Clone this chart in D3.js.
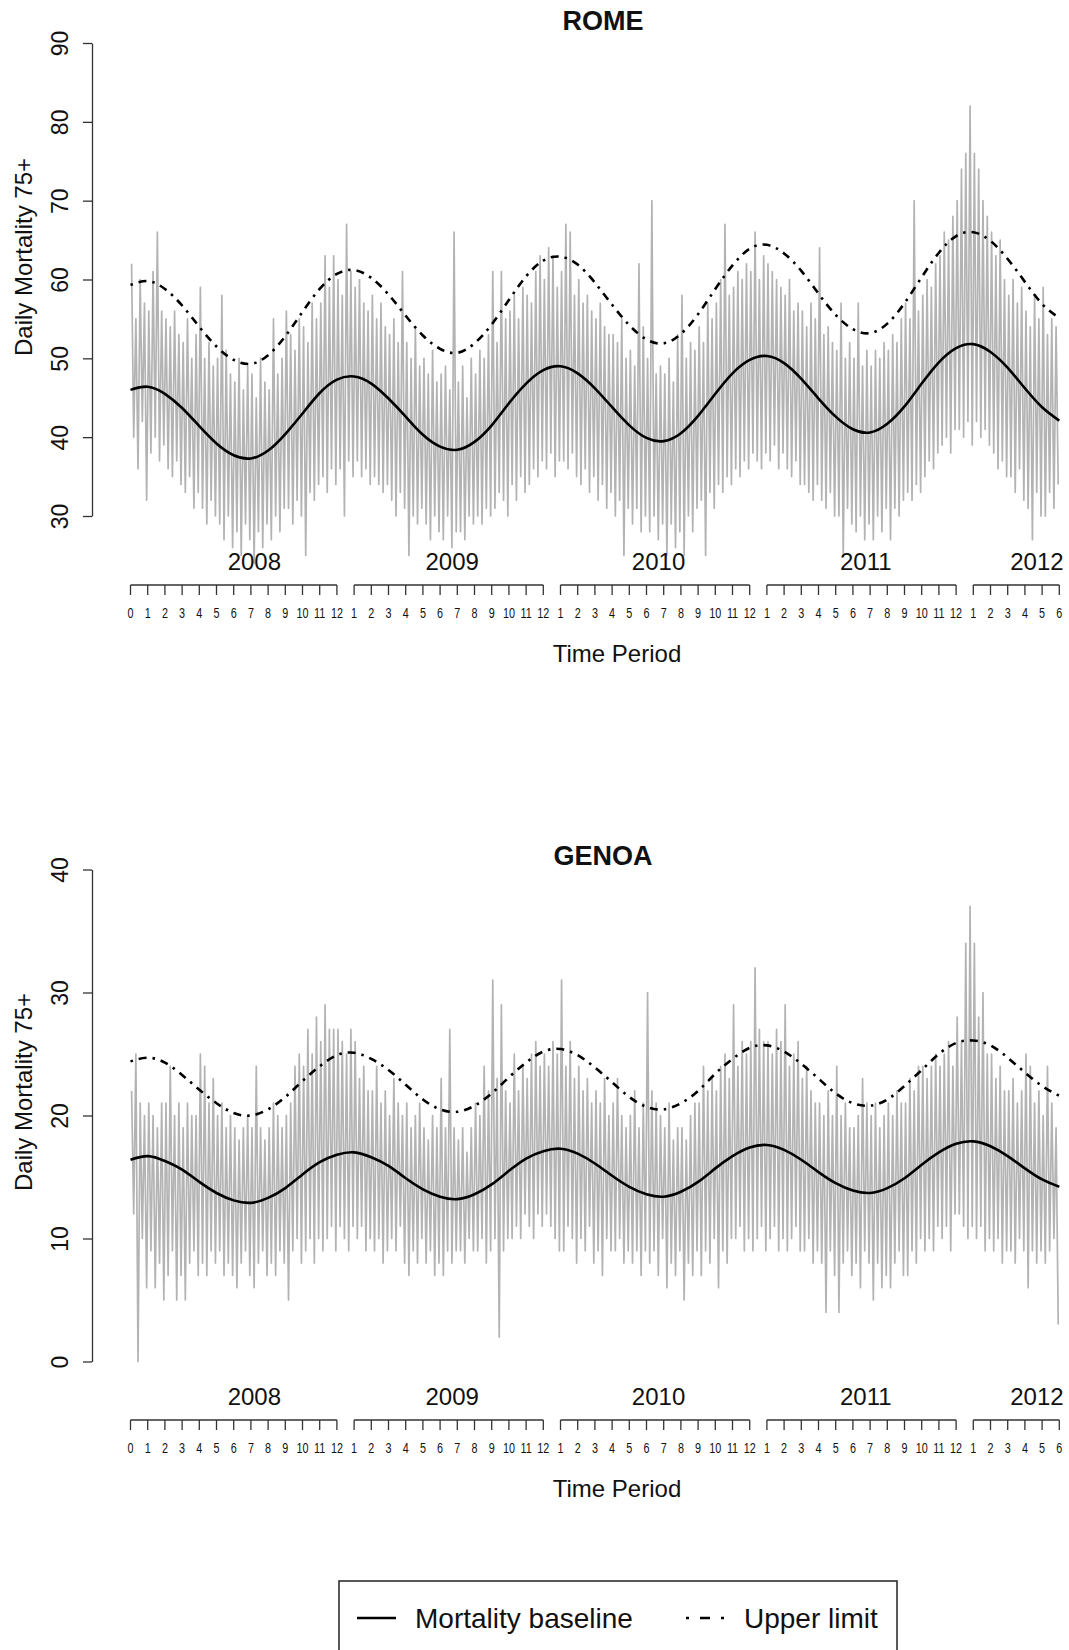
<!DOCTYPE html>
<html>
<head>
<meta charset="utf-8">
<script src="https://cdnjs.cloudflare.com/ajax/libs/d3/7.8.5/d3.min.js"></script>
<style>
  body { margin: 0; background: #fff; }
  svg text { font-family: "Liberation Sans", Arial, Helvetica, sans-serif; fill: #111; }
</style>
</head>
<body>
<div id="chart"></div>
<script>
// ---------------- data ----------------
// x is measured in months from the first tick ("0" of 2008) to the last ("6" of 2012)
const years = ["2008", "2009", "2010", "2011", "2012"];
const yearLabelPos = [7.2, 18.7, 30.7, 42.75, 52.7];
const yearFirstMonth = [0, 13, 25, 37, 49];
const monthLabels = [
  ["0","1","2","3","4","5","6","7","8","9","10","11","12"],
  ["1","2","3","4","5","6","7","8","9","10","11","12"],
  ["1","2","3","4","5","6","7","8","9","10","11","12"],
  ["1","2","3","4","5","6","7","8","9","10","11","12"],
  ["1","2","3","4","5","6"]
];

// smooth curves, one value per month tick (0..54)
const romeBaseline = [46.0,46.4,45.5,43.7,41.4,39.2,37.7,37.3,38.3,40.4,43.0,45.6,47.3,
  47.7,46.8,44.9,42.6,40.3,38.8,38.4,39.4,41.5,44.3,46.8,48.5,
  49.0,48.1,46.2,43.8,41.5,39.9,39.5,40.5,42.7,45.5,48.1,49.8,
  50.3,49.4,47.4,44.9,42.6,41.0,40.6,41.7,43.9,46.8,49.5,51.3,
  51.8,50.8,48.8,46.2,43.8,42.1];
const romeUpper = [59.3,59.8,58.8,56.7,54.0,51.5,49.8,49.3,50.4,52.8,55.9,58.8,60.7,
  61.2,60.2,58.1,55.4,52.9,51.2,50.7,51.9,54.3,57.4,60.4,62.4,
  62.9,61.9,59.6,56.8,54.2,52.4,51.9,53.1,55.6,58.8,61.8,63.9,
  64.4,63.3,61.1,58.2,55.5,53.7,53.2,54.4,57.0,60.3,63.4,65.5,
  66.0,64.9,62.6,59.7,56.9,55.1];
const genoaBaseline = [16.4,16.7,16.3,15.6,14.6,13.7,13.1,12.9,13.3,14.1,15.2,16.2,16.8,
  17.0,16.6,15.9,14.9,14.0,13.4,13.2,13.6,14.4,15.5,16.5,17.1,
  17.3,16.9,16.1,15.1,14.2,13.6,13.4,13.8,14.6,15.7,16.7,17.4,
  17.6,17.2,16.4,15.4,14.5,13.9,13.7,14.1,14.9,16.0,17.0,17.7,
  17.9,17.5,16.7,15.7,14.8,14.2];
const genoaUpper = [24.4,24.7,24.3,23.3,22.1,21.0,20.2,20.0,20.5,21.5,22.8,24.0,24.9,
  25.1,24.6,23.7,22.5,21.3,20.5,20.3,20.8,21.8,23.1,24.3,25.2,
  25.4,24.9,23.9,22.7,21.5,20.7,20.5,21.0,22.0,23.4,24.6,25.5,
  25.7,25.2,24.2,23.0,21.8,21.0,20.8,21.3,22.4,23.7,25.0,25.9,
  26.1,25.7,24.7,23.5,22.4,21.6];

// daily counts, summarised as highs and lows of quarter-month bins (4 per month, months 0..53)
const romeHigh = [
  62,55,60,57, 56,61,66,56, 55,54,56,53, 52,55,50,53, 59,50,52,49, 50,58,51,48,
  47,50,46,49, 48,45,50,47, 46,55,48,50, 56,53,51,55, 54,52,57,55, 57,63,59,63,
  60,58,67,61, 59,60,57,56, 58,55,57,54, 53,55,52,61, 52,50,54,49, 50,48,51,47,
  48,49,46,66, 47,49,45,50, 48,51,50,53, 61,52,61,55, 56,58,55,59, 58,57,61,63,
  60,64,63,59, 61,67,66,58, 60,57,58,56, 55,57,54,53, 53,52,55,50, 51,49,62,54,
  50,70,48,49, 48,50,47,53, 58,50,52,51, 54,52,57,55, 57,60,67,58, 59,61,60,62,
  61,66,60,63, 62,61,60,59, 58,60,56,57, 56,54,57,55, 64,53,54,52, 51,57,50,52,
  50,57,49,51, 49,51,50,52, 51,53,52,55, 57,55,70,56, 58,60,59,62, 63,66,65,68,
  70,74,76,82, 76,74,70,68, 66,63,65,60, 58,60,57,59, 56,54,58,55, 59,53,55,54];
const romeLow = [
  40,36,42,32, 38,40,37,39, 36,35,37,34, 33,35,31,33, 31,29,32,30, 29,27,30,26,
  28,25,29,27, 24,28,26,29, 27,30,28,31, 31,29,32,30, 25,33,32,34, 35,33,36,34,
  36,30,37,35, 37,35,36,34, 35,34,33,34, 32,30,33,31, 25,30,29,31, 29,27,30,28,
  27,30,26,28, 28,27,30,29, 30,29,31,30, 31,33,32,30, 34,32,35,33, 34,36,35,37,
  36,38,35,37, 37,36,38,35, 34,36,33,35, 32,34,31,33, 30,32,25,31, 29,31,28,30,
  28,30,27,29, 25,29,26,28, 25,30,28,31, 32,25,33,31, 34,33,35,34, 36,35,37,36,
  38,37,36,38, 37,39,36,38, 36,35,37,34, 34,33,32,34, 32,31,33,30, 30,25,31,29,
  28,30,27,29, 27,30,28,31, 27,31,30,32, 33,32,34,33, 35,37,36,38, 39,40,38,41,
  41,40,42,39, 42,40,41,39, 38,36,37,35, 35,33,36,32, 31,27,33,30, 30,33,31,34];
const genoaHigh = [
  22,25,21,20, 21,20,19,21, 21,24,20,21, 19,21,20,20, 25,24,21,23, 20,21,19,20,
  19,18,19,20, 19,24,19,18, 19,21,20,19, 20,21,24,25, 24,27,25,28, 26,29,27,27,
  27,26,25,27, 26,23,24,22, 22,24,21,22, 20,23,21,20, 21,19,20,21, 19,18,20,19,
  23,19,27,19, 18,19,17,19, 21,20,24,22, 31,23,29,22, 21,25,22,24, 23,25,26,24,
  25,24,26,25, 31,24,26,23, 24,22,23,21, 22,21,23,20, 21,23,20,19, 20,22,19,21,
  30,22,21,20, 19,21,18,19, 19,18,20,21, 21,24,22,23, 22,24,25,23, 29,24,26,25,
  26,32,27,26, 26,25,27,26, 29,24,25,26, 23,24,22,21, 21,20,22,20, 24,20,21,19,
  19,20,23,21, 20,21,19,20, 21,20,22,21, 21,23,22,24, 24,23,24,25, 24,25,26,24,
  28,26,34,37, 34,28,30,25, 25,23,24,22, 22,23,21,22, 25,24,21,22, 20,24,21,19];
const genoaLow = [
  12,0,10,6, 9,6,8,5, 7,9,5,7, 5,8,9,7, 8,7,9,8, 9,7,8,7,
  6,8,9,7, 6,8,9,7, 8,7,9,8, 5,9,10,8, 9,10,8,10, 9,10,11,9,
  11,10,9,11, 10,11,9,10, 9,10,8,9, 10,9,11,8, 7,9,8,10, 8,9,7,8,
  7,9,8,9, 9,8,10,9, 9,10,8,9, 10,2,9,10, 10,11,10,12, 11,10,12,11,
  12,11,10,9, 9,11,10,8, 10,9,11,8, 9,7,10,9, 9,10,8,9, 8,9,7,9,
  8,9,7,10, 6,8,7,9, 5,8,7,9, 7,9,8,10, 6,9,8,10, 10,11,9,10,
  9,10,11,9, 10,11,9,10, 9,10,11,9, 9,10,8,9, 8,4,9,7, 4,8,9,7,
  8,6,9,8, 5,8,6,7, 6,8,9,7, 7,9,8,10, 9,10,9,11, 10,11,9,12,
  12,11,10,11, 10,11,9,10, 9,10,8,9, 9,8,10,9, 6,9,8,9, 8,9,10,3];

const romeTicks = [30, 40, 50, 60, 70, 80, 90];
const genoaTicks = [0, 10, 20, 30, 40];

// ---------------- drawing ----------------
const width = 1069, height = 1650;

const svg = d3.select("#chart")
  .append("svg")
  .attr("width", width)
  .attr("height", height);

// one shared month scale
const x = d3.scaleLinear().domain([0, 54]).range([130.5, 1059.3]);

const panels = [
  {name: "ROME", high: romeHigh, low: romeLow, base: romeBaseline, upper: romeUpper,
   ticks: romeTicks, domain: [30, 90], range: [516, 43], top: 0},
  {name: "GENOA", high: genoaHigh, low: genoaLow, base: genoaBaseline, upper: genoaUpper,
   ticks: genoaTicks, domain: [0, 40], range: [1361.5, 869.5], top: 835}
];

panels.forEach(function(p) {
  const g = svg.append("g");
  const y = d3.scaleLinear().domain(p.domain).range(p.range);

  // title
  g.append("text")
    .attr("x", 603).attr("y", 21 + p.top)
    .attr("text-anchor", "middle").attr("dominant-baseline", "central")
    .style("font-size", "27px").style("font-weight", "bold")
    .text(p.name);

  // daily series: zigzag high / low of each bin
  let pts = [];
  p.high.forEach(function(h, i) {
    pts.push({m: i / 4 + 0.0625, v: h});
    pts.push({m: i / 4 + 0.1875, v: p.low[i]});
  });
  g.append("path")
    .datum(pts)
    .attr("fill", "none")
    .attr("stroke", "#b3b3b3")
    .attr("stroke-width", 1.7)
    .attr("stroke-linejoin", "round")
    .attr("d", d3.line().x(d => x(d.m)).y(d => y(d.v)));

  // baseline and upper limit
  const smooth = d3.line().x((d, i) => x(i)).y(d => y(d)).curve(d3.curveNatural);
  g.append("path")
    .datum(p.upper)
    .attr("fill", "none")
    .attr("stroke", "#000")
    .attr("stroke-width", 2.6)
    .attr("stroke-dasharray", "2.5,6,8,6")
    .attr("d", smooth);
  g.append("path")
    .datum(p.base)
    .attr("fill", "none")
    .attr("stroke", "#000")
    .attr("stroke-width", 2.6)
    .attr("d", smooth);

  // left axis, R style with rotated labels
  g.append("g")
    .attr("transform", "translate(92,0)")
    .call(d3.axisLeft(y).tickValues(p.ticks).tickSize(9).tickSizeOuter(0).tickFormat(d3.format("d")))
    .call(function(a) {
      a.select(".domain").attr("stroke", "#333").attr("stroke-width", 1.3);
      a.selectAll(".tick line").attr("stroke", "#333").attr("stroke-width", 1.3);
      a.selectAll(".tick text")
        .attr("transform", "rotate(-90)")
        .attr("x", 0).attr("y", -32).attr("dy", null)
        .attr("text-anchor", "middle")
        .attr("dominant-baseline", "central")
        .attr("fill", "#111")
        .style("font-size", "23px")
        .style("font-family", "'Liberation Sans', Arial, sans-serif");
    });

  g.append("text")
    .attr("transform", "translate(23," + (257 + p.top) + ") rotate(-90)")
    .attr("text-anchor", "middle").attr("dominant-baseline", "central")
    .style("font-size", "24px")
    .text("Daily Mortality 75+");

  // year labels
  g.selectAll(".year")
    .data(years)
    .enter().append("text")
    .attr("x", (d, i) => x(yearLabelPos[i]))
    .attr("y", 561 + p.top)
    .attr("text-anchor", "middle").attr("dominant-baseline", "central")
    .style("font-size", "24px")
    .text(d => d);

  // one bracket axis per year
  const yb = 585 + p.top;
  monthLabels.forEach(function(labels, k) {
    const first = yearFirstMonth[k];
    const bg = g.append("g");
    bg.append("line")
      .attr("x1", x(first)).attr("x2", x(first + labels.length - 1))
      .attr("y1", yb).attr("y2", yb)
      .attr("stroke", "#333").attr("stroke-width", 1.3);
    bg.selectAll("line.tk")
      .data(labels)
      .enter().append("line")
      .attr("class", "tk")
      .attr("x1", (d, j) => x(first + j)).attr("x2", (d, j) => x(first + j))
      .attr("y1", yb).attr("y2", yb + 10)
      .attr("stroke", "#333").attr("stroke-width", 1.3);
    bg.selectAll("text")
      .data(labels)
      .enter().append("text")
      .attr("transform", (d, j) => "translate(" + x(first + j) + "," + (612.7 + p.top) + ") scale(0.72,1)")
      .attr("text-anchor", "middle").attr("dominant-baseline", "central")
      .style("font-size", "15px")
      .text(d => d);
  });

  g.append("text")
    .attr("x", 617).attr("y", 653 + p.top)
    .attr("text-anchor", "middle").attr("dominant-baseline", "central")
    .style("font-size", "24px")
    .text("Time Period");
});

// legend
const legend = svg.append("g");
legend.append("rect")
  .attr("x", 339).attr("y", 1581)
  .attr("width", 558).attr("height", 120)
  .attr("fill", "none").attr("stroke", "#222").attr("stroke-width", 1.5);
legend.append("line")
  .attr("x1", 357).attr("x2", 396).attr("y1", 1618).attr("y2", 1618)
  .attr("stroke", "#000").attr("stroke-width", 2.6);
legend.append("text")
  .attr("x", 415).attr("y", 1618)
  .attr("dominant-baseline", "central")
  .style("font-size", "28px")
  .text("Mortality baseline");
legend.append("line")
  .attr("x1", 686).attr("x2", 724).attr("y1", 1618).attr("y2", 1618)
  .attr("stroke", "#000").attr("stroke-width", 2.6)
  .attr("stroke-dasharray", "3,11,10,11,3");
legend.append("text")
  .attr("x", 744).attr("y", 1618)
  .attr("dominant-baseline", "central")
  .style("font-size", "28px")
  .text("Upper limit");
</script>
</body>
</html>
